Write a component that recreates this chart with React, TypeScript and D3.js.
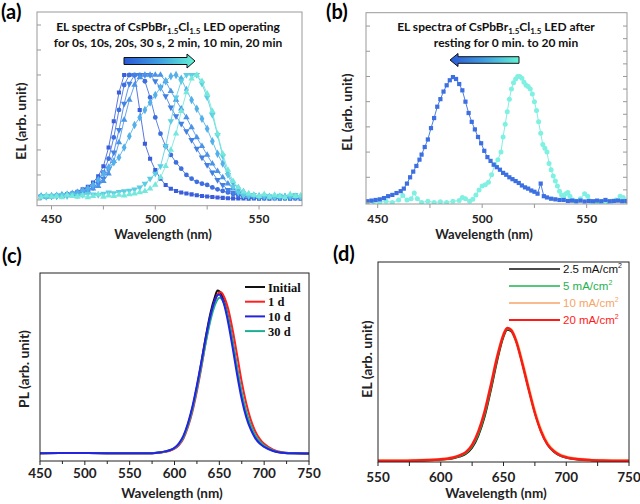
import React from "react";
import * as d3 from "d3";

// ---------- Panel (a): EL spectra while operating ----------
const wlA = [445,447.5,450,452.5,455,457.5,460,462.5,465,467.5,470,472.5,475,477.5,480,482.5,485,487.5,490,492.5,495,497.5,500,502.5,505,507.5,510,512.5,515,517.5,520,522.5,525,527.5,530,532.5,535,537.5,540,542.5,545,547.5,550,552.5,555,557.5,560,562.5,565,567.5,570];
const op0s = [0.03,0.028,0.03,0.033,0.038,0.045,0.052,0.065,0.085,0.105,0.14,0.19,0.27,0.42,0.63,0.86,1,1,1,0.72,0.45,0.33,0.24,0.17,0.12,0.09,0.072,0.06,0.052,0.045,0.038,0.032,0.028,0.024,0.02,0.017,0.014,0.013,0.012,0.012,0.011,0.012,0.011,0.012,0.011,0.012,0.011,0.012,0.011,0.012,0.011];
const op10s = [0.03,0.03,0.03,0.034,0.04,0.045,0.05,0.06,0.075,0.095,0.12,0.16,0.22,0.33,0.5,0.72,0.92,1,1,1,0.95,0.82,0.66,0.53,0.43,0.36,0.3,0.25,0.2,0.17,0.145,0.13,0.12,0.1,0.085,0.072,0.06,0.048,0.038,0.03,0.025,0.022,0.02,0.02,0.019,0.02,0.019,0.02,0.019,0.02,0.019];
const op20s = [0.025,0.025,0.028,0.03,0.035,0.04,0.045,0.055,0.065,0.08,0.1,0.13,0.17,0.25,0.38,0.56,0.77,0.93,1,1,1,1,0.95,0.9,0.83,0.74,0.67,0.61,0.55,0.48,0.41,0.34,0.28,0.22,0.16,0.12,0.08,0.06,0.045,0.035,0.03,0.025,0.022,0.02,0.021,0.02,0.022,0.02,0.021,0.02,0.02];
const op30s = [0.025,0.026,0.027,0.03,0.033,0.037,0.042,0.05,0.06,0.072,0.09,0.11,0.15,0.21,0.31,0.46,0.64,0.8,0.92,0.98,1,1,1,1,0.95,0.87,0.8,0.73,0.66,0.58,0.5,0.43,0.36,0.29,0.23,0.18,0.13,0.095,0.07,0.05,0.04,0.033,0.028,0.025,0.024,0.025,0.023,0.025,0.024,0.023,0.024];
const op2min = [0.03,0.03,0.032,0.035,0.04,0.045,0.05,0.06,0.075,0.09,0.12,0.16,0.21,0.26,0.3,0.34,0.42,0.51,0.6,0.66,0.72,0.78,0.84,0.9,0.95,0.99,1,0.97,0.88,0.8,0.73,0.65,0.57,0.47,0.37,0.29,0.21,0.14,0.095,0.065,0.045,0.035,0.03,0.028,0.026,0.027,0.025,0.026,0.025,0.026,0.025];
const op10min = [0.03,0.025,0.035,0.03,0.04,0.03,0.045,0.035,0.04,0.05,0.045,0.04,0.05,0.06,0.055,0.065,0.07,0.075,0.085,0.1,0.13,0.17,0.21,0.27,0.43,0.63,0.82,0.95,1,1,1,0.93,0.82,0.68,0.52,0.35,0.2,0.105,0.06,0.035,0.03,0.04,0.025,0.035,0.03,0.02,0.035,0.025,0.03,0.04,0.025];
const op20min = [0.02,0.035,0.025,0.03,0.02,0.04,0.03,0.025,0.035,0.02,0.03,0.045,0.025,0.035,0.03,0.04,0.035,0.045,0.05,0.06,0.07,0.09,0.12,0.18,0.27,0.4,0.53,0.71,0.86,0.97,1,0.95,0.85,0.71,0.53,0.37,0.24,0.15,0.1,0.065,0.05,0.04,0.03,0.045,0.025,0.04,0.03,0.02,0.045,0.03,0.035];
const opColors = ["#3a5edb","#3e6fe0","#4380e4","#4a94e8","#53b0ea","#5ccde2","#74e8dc"];

// ---------- Panel (b): EL spectra after resting ----------
const rest20min: [number, number][] = [[445,0.01],[447,0.015],[449,0.02],[451,0.025],[453,0.035],[455,0.05],[457,0.06],[459,0.075],[461,0.09],[462.5,0.11],[464,0.15],[465.5,0.2],[467,0.245],[468.5,0.29],[470,0.34],[471,0.38],[472.5,0.44],[474,0.5],[475.5,0.59],[477,0.67],[478.5,0.76],[480,0.82],[481.5,0.88],[483,0.93],[484.5,0.97],[486,0.995],[487.5,0.98],[489,0.94],[490.5,0.89],[492,0.8],[493.5,0.71],[495,0.64],[496.5,0.58],[498,0.52],[499.5,0.47],[501,0.41],[502.5,0.36],[504,0.33],[505.5,0.3],[507,0.28],[508.5,0.26],[510,0.235],[511.5,0.22],[513,0.2],[514.5,0.185],[516,0.17],[517.5,0.155],[519,0.135],[520.5,0.12],[522,0.11],[523.5,0.095],[525,0.085],[526.5,0.07],[528,0.15],[529.5,0.05],[531,0.04],[533,0.03],[535,0.025],[537,0.02],[539,0.02],[541,0.012],[543,0.015],[545,0.01],[547,0.015],[549,0.008],[551,0.012],[553,0.01],[555,0.015],[557,0.01],[559,0.02],[561,0.01],[563,0.012],[565,0.015],[567,0.01],[569,0.012]];
const rest0min: [number, number][] = [[445,0],[448,0.005],[451,0],[454,0.01],[457,0],[460,0.02],[462,0.055],[464,0.02],[466,0.03],[467.5,0.075],[469,0.03],[471,0],[474,0.01],[477,0],[480,0.005],[483,0],[486,0.01],[489,0.015],[490.5,0.04],[492,0.03],[494,0.01],[495.5,0.025],[497,0.06],[498.5,0.1],[500,0.13],[501.5,0.14],[503,0.16],[504.5,0.22],[506,0.3],[507.5,0.34],[509,0.4],[510,0.52],[511,0.62],[512,0.72],[513,0.82],[514,0.9],[515,0.95],[516,0.98],[517,1],[518,1],[519,0.985],[520,0.955],[521,0.93],[522,0.92],[523,0.9],[524,0.86],[525,0.8],[526,0.73],[527,0.64],[528,0.55],[529,0.46],[530,0.43],[531,0.4],[532,0.31],[533,0.26],[534,0.21],[535,0.17],[536,0.13],[537,0.09],[538,0.06],[539,0.045],[540,0.07],[541,0.08],[542,0.05],[543.5,0.02],[545,0.01],[547,0.03],[549,0.07],[550.5,0.05],[552,0.01],[554,0.005],[556,0],[558,0.01],[560,0.005],[562,0.01],[564,0.02],[566,0.05],[567.5,0.04],[569,0.01]];

// ---------- Panel (c): PL stability ----------
const wlC = [450,500,550,575,585,590,595,600,605,610,615,620,625,630,635,640,645,648,650,652,655,660,665,670,675,680,685,690,695,700,710,720,735,750];
const plInitial = [0.005,0.006,0.004,0.005,0.01,0.015,0.022,0.035,0.06,0.105,0.18,0.28,0.41,0.56,0.72,0.86,0.96,1,0.995,0.98,0.94,0.83,0.68,0.51,0.36,0.245,0.17,0.11,0.075,0.05,0.02,0.008,0.004,0.003];
const pl1d = [0.005,0.006,0.004,0.005,0.009,0.013,0.02,0.032,0.055,0.095,0.165,0.26,0.385,0.53,0.69,0.83,0.935,0.975,0.988,0.99,0.965,0.885,0.755,0.6,0.44,0.31,0.21,0.14,0.093,0.062,0.027,0.011,0.004,0.003];
const pl10d = [0.005,0.006,0.004,0.005,0.011,0.016,0.024,0.038,0.065,0.112,0.188,0.29,0.42,0.565,0.715,0.845,0.94,0.972,0.975,0.962,0.92,0.8,0.645,0.48,0.335,0.225,0.15,0.097,0.064,0.043,0.018,0.008,0.004,0.003];
const pl30d = [0.005,0.006,0.004,0.005,0.01,0.015,0.022,0.035,0.06,0.102,0.174,0.272,0.398,0.54,0.685,0.815,0.91,0.945,0.955,0.952,0.925,0.825,0.68,0.52,0.375,0.26,0.175,0.115,0.077,0.052,0.022,0.009,0.004,0.003];
const plLabels = ["Initial","1 d","10 d","30 d"];
const plColors = ["#111111","#ff2020","#2424e0","#1fae94"];

// ---------- Panel (d): EL vs current density ----------
const wlD = [550,560,570,580,590,595,600,605,610,615,620,625,630,635,640,645,650,653,656,660,665,670,675,680,685,690,695,700,705,710,720,730,740,750];
const el2p5 = [0.004,0.004,0.005,0.006,0.008,0.01,0.012,0.016,0.023,0.035,0.055,0.1,0.19,0.33,0.53,0.75,0.93,0.985,0.975,0.9,0.73,0.54,0.36,0.22,0.125,0.072,0.042,0.027,0.018,0.013,0.008,0.006,0.005,0.004];
const el5 = [0.004,0.005,0.005,0.007,0.009,0.011,0.013,0.018,0.025,0.038,0.06,0.11,0.2,0.345,0.545,0.765,0.94,0.99,0.98,0.9,0.73,0.54,0.36,0.22,0.127,0.075,0.045,0.029,0.02,0.014,0.009,0.006,0.005,0.004];
const el10 = [0.005,0.005,0.006,0.008,0.01,0.012,0.015,0.02,0.028,0.042,0.065,0.118,0.215,0.36,0.56,0.775,0.945,0.995,0.985,0.905,0.74,0.55,0.37,0.23,0.135,0.08,0.05,0.033,0.023,0.016,0.01,0.007,0.006,0.005];
const el20 = [0.005,0.006,0.006,0.008,0.011,0.013,0.016,0.021,0.03,0.045,0.07,0.125,0.225,0.375,0.575,0.785,0.95,1,0.985,0.905,0.735,0.545,0.365,0.225,0.13,0.078,0.048,0.032,0.022,0.016,0.01,0.007,0.006,0.005];
const elLabels = ["2.5 mA/cm","5 mA/cm","10 mA/cm","20 mA/cm"];
const elColors = ["#111111","#1fb24e","#f5a568","#ff1a1a"];

const ticksAB = [450, 500, 550];
const ticksC = [450, 500, 550, 600, 650, 700, 750];
const ticksD = [550, 600, 650, 700, 750];

const SANS = "Lato, 'Open Sans', sans-serif";

export default function App() {
  const xA = d3.scaleLinear().domain([443, 570.7]).range([37, 302]);
  const yA = d3.scaleLinear().domain([-0.046, 1.504]).range([205.7, 12]);
  const xB = d3.scaleLinear().domain([444.4, 569.3]).range([366, 627]);
  const yB = d3.scaleLinear().domain([-0.012, 1.506]).range([204, 12.7]);
  const xC = d3.scaleLinear().domain([450, 750]).range([40, 309]);
  const yC = d3.scaleLinear().domain([-0.043, 1.107]).range([461, 273]);
  const xD = d3.scaleLinear().domain([550, 750]).range([378, 629]);
  const yD = d3.scaleLinear().domain([-0.004, 1.494]).range([462, 262]);

  const opSeries = [op0s, op10s, op20s, op30s, op2min, op10min, op20min];
  const opSyms = [d3.symbolSquare, d3.symbolCircle, d3.symbolTriangle, d3.symbolTriangle, d3.symbolDiamond, d3.symbolTriangle, d3.symbolTriangle];
  const opRot = [0, 0, 180, 0, 0, 180, 0];
  const opSize = [17, 18, 18, 18, 20, 18, 18];

  const lineA = (vals: number[]) =>
    d3.line<number>().x((_, i) => xA(wlA[i])).y((d) => yA(d))(vals) || "";
  const lineB = d3.line<[number, number]>().x((d) => xB(d[0])).y((d) => yB(d[1]));
  const lineC = (vals: number[]) =>
    d3.line<number>().x((_, i) => xC(wlC[i])).y((d) => yC(d)).curve(d3.curveMonotoneX)(vals) || "";
  const lineD = (vals: number[]) =>
    d3.line<number>().x((_, i) => xD(wlD[i])).y((d) => yD(d)).curve(d3.curveMonotoneX)(vals) || "";

  const sym = (t: d3.SymbolType, s: number) => d3.symbol().type(t).size(s)() || "";

  const yTicksAB = [0, 0.2, 0.4, 0.6, 0.8, 1.0, 1.2, 1.4];
  const yTicksBR = [0.1, 0.2, 0.3, 0.4, 0.5, 0.6, 0.7, 0.8, 0.9, 1.0, 1.1, 1.2, 1.3, 1.4];
  const minorAB = [450, 475, 500, 525, 550];
  const minorC = d3.range(450, 751, 25);
  const minorD = d3.range(550, 751, 25);

  const sub = (t: string) => (
    <tspan fontSize={8} dy={3}>{t}</tspan>
  );

  return (
    <svg width={640} height={504} style={{ position: "absolute", left: 0, top: 0, background: "#fff" }} fontFamily={SANS}>
      <defs>
        <clipPath id="clipA"><rect x={37} y={12} width={265} height={193.7} /></clipPath>
        <clipPath id="clipB"><rect x={366} y={12.7} width={261} height={191.3} /></clipPath>
        <clipPath id="clipC"><rect x={40} y={273} width={269} height={188} /></clipPath>
        <clipPath id="clipD"><rect x={378} y={262} width={251} height={200} /></clipPath>
        <linearGradient id="arrGrad" x1="0" x2="1" y1="0" y2="0">
          <stop offset="0" stopColor="#2a58d6" />
          <stop offset="0.5" stopColor="#3f9ee0" />
          <stop offset="1" stopColor="#62f2d4" />
        </linearGradient>
      </defs>

      {/* ===== Panel (a) ===== */}
      <text x={1} y={19} fontSize={20} fontWeight="bold">(a)</text>
      <g clipPath="url(#clipA)">
        {opSeries.map((vals, k) => (
          <g key={k}>
            <path d={lineA(vals)} fill="none" stroke={opColors[k]} strokeWidth={1} opacity={0.85} />
            {vals.map((v, i) => (
              <path key={i} d={sym(opSyms[k], opSize[k])} fill={opColors[k]}
                transform={`translate(${xA(wlA[i])},${yA(v)}) rotate(${opRot[k]})`} />
            ))}
          </g>
        ))}
      </g>
      <rect x={37} y={12} width={265} height={193.7} fill="none" stroke="#999" strokeWidth={1} />
      {yTicksAB.map((t) => (
        <line key={t} x1={37} x2={41} y1={yA(t)} y2={yA(t)} stroke="#999" />
      ))}
      {minorAB.map((t) => (
        <line key={t} x1={xA(t)} x2={xA(t)} y1={205.7} y2={209.5} stroke="#999" />
      ))}
      {ticksAB.map((t) => (
        <text key={t} x={xA(t)} y={222.5} textAnchor="middle" fontSize={12} fontWeight="bold" fill="#222">{t}</text>
      ))}
      <text x={163} y={238.5} textAnchor="middle" fontSize={13} fontWeight="bold" fill="#222">Wavelength (nm)</text>
      <text transform="translate(26,121) rotate(-90)" textAnchor="middle" fontSize={14} fontWeight="bold" fill="#222">EL (arb. unit)</text>
      <text x={168} y={31} textAnchor="middle" fontSize={12} fontWeight="bold" fill="#111">
        EL spectra of CsPbBr{sub("1.5")}<tspan dy={-3}>Cl</tspan>{sub("1.5")}<tspan dy={-3}> LED operating</tspan>
      </text>
      <text x={168} y={47} textAnchor="middle" fontSize={12} fontWeight="bold" fill="#111">
        for 0s, 10s, 20s, 30 s, 2 min, 10 min, 20 min
      </text>
      <path d="M124,57.5 H187 V54 L195,61 L187,68 V64.5 H124 Z" fill="url(#arrGrad)" stroke="#111" strokeWidth={1} />

      {/* ===== Panel (b) ===== */}
      <text x={326} y={19} fontSize={20} fontWeight="bold">(b)</text>
      <g clipPath="url(#clipB)">
        <path d={lineB(rest0min) || ""} fill="none" stroke="#7ff0e2" strokeWidth={1} />
        {rest0min.map((d, i) => (
          <circle key={i} cx={xB(d[0])} cy={yB(d[1])} r={2.5} fill="#7ff0e2" />
        ))}
        <path d={lineB(rest20min) || ""} fill="none" stroke="#4a7ee6" strokeWidth={1} />
        {rest20min.map((d, i) => (
          <rect key={i} x={xB(d[0]) - 2.1} y={yB(d[1]) - 2.1} width={4.2} height={4.2} fill="#3c6fe2" />
        ))}
      </g>
      <rect x={366} y={12.7} width={261} height={191.3} fill="none" stroke="#999" strokeWidth={1} />
      {yTicksAB.map((t) => (
        <line key={t} x1={366} x2={370} y1={yB(t)} y2={yB(t)} stroke="#999" />
      ))}
      {yTicksBR.map((t) => (
        <line key={t} x1={627} x2={623} y1={yB(t)} y2={yB(t)} stroke="#999" />
      ))}
      {minorAB.map((t) => (
        <line key={t} x1={xB(t)} x2={xB(t)} y1={204} y2={208} stroke="#999" />
      ))}
      {ticksAB.map((t) => (
        <text key={t} x={xB(t)} y={222.5} textAnchor="middle" fontSize={12} fontWeight="bold" fill="#222">{t}</text>
      ))}
      <text x={484} y={238.5} textAnchor="middle" fontSize={13} fontWeight="bold" fill="#222">Wavelength (nm)</text>
      <text transform="translate(352,112) rotate(-90)" textAnchor="middle" fontSize={14} fontWeight="bold" fill="#222">EL (arb. unit)</text>
      <text x={496} y={31} textAnchor="middle" fontSize={12} fontWeight="bold" fill="#111">
        EL spectra of CsPbBr{sub("1.5")}<tspan dy={-3}>Cl</tspan>{sub("1.5")}<tspan dy={-3}> LED after</tspan>
      </text>
      <text x={506} y={47} textAnchor="middle" fontSize={12} fontWeight="bold" fill="#111">resting for 0 min. to 20 min</text>
      <path d="M519,56.7 H458 V53.5 L450,60 L458,66.5 V63.3 H519 Z" fill="url(#arrGrad)" stroke="#111" strokeWidth={1} />

      {/* ===== Panel (c) ===== */}
      <text x={2} y={263} fontSize={20} fontWeight="bold">(c)</text>
      <g clipPath="url(#clipC)">
        {[plInitial, pl1d, pl30d, pl10d].map((vals, k) => {
          const idx = [0, 1, 3, 2][k];
          return <path key={k} d={lineC(vals)} fill="none" stroke={plColors[idx]} strokeWidth={2} />;
        })}
      </g>
      <rect x={40} y={273} width={269} height={188} fill="none" stroke="#222" strokeWidth={1} />
      {minorC.map((t) => (
        <line key={t} x1={xC(t)} x2={xC(t)} y1={461} y2={t % 50 === 0 ? 465 : 464} stroke="#222" />
      ))}
      {ticksC.map((t) => (
        <text key={t} x={xC(t)} y={478} textAnchor="middle" fontSize={13.5} fontWeight="bold" fill="#222">{t}</text>
      ))}
      <text x={172} y={497.5} textAnchor="middle" fontSize={13.5} fontWeight="bold" fill="#222">Wavelength (nm)</text>
      <text transform="translate(29,369) rotate(-90)" textAnchor="middle" fontSize={14} fontWeight="bold" fill="#222">PL (arb. unit)</text>
      {plLabels.map((l, i) => (
        <g key={l}>
          <line x1={245} x2={265} y1={287 + i * 14.7} y2={287 + i * 14.7} stroke={plColors[i]} strokeWidth={2} />
          <text x={268} y={291.5 + i * 14.7} fontSize={12.5} fontWeight="bold" fontFamily="'Liberation Serif', 'Times New Roman', serif" fill="#111">{l}</text>
        </g>
      ))}

      {/* ===== Panel (d) ===== */}
      <text x={333} y={261} fontSize={20} fontWeight="bold">(d)</text>
      <g clipPath="url(#clipD)">
        <path d={lineD(el10)} fill="none" stroke="#f8dc9c" strokeWidth={3.5} />
        <path d={lineD(el2p5)} fill="none" stroke={elColors[0]} strokeWidth={1.5} />
        <path d={lineD(el5)} fill="none" stroke={elColors[1]} strokeWidth={1.5} />
        <path d={lineD(el20)} fill="none" stroke={elColors[3]} strokeWidth={2.5} />
      </g>
      <rect x={378} y={262} width={251} height={200} fill="none" stroke="#222" strokeWidth={1} />
      {minorD.map((t) => (
        <line key={t} x1={xD(t)} x2={xD(t)} y1={462} y2={466} stroke="#222" />
      ))}
      {ticksD.map((t) => (
        <text key={t} x={xD(t)} y={481.5} textAnchor="middle" fontSize={13.5} fontWeight="bold" fill="#222">{t}</text>
      ))}
      <text x={496} y={498} textAnchor="middle" fontSize={13.5} fontWeight="bold" fill="#222">Wavelength (nm)</text>
      <text transform="translate(372,359) rotate(-90)" textAnchor="middle" fontSize={14} fontWeight="bold" fill="#222">EL (arb. unit)</text>
      {elLabels.map((l, i) => {
        const yy = [269, 286, 303, 320][i];
        return (
          <g key={l}>
            <line x1={509} x2={560} y1={yy} y2={yy} stroke={elColors[i]} strokeWidth={i === 3 ? 2 : 1.5} />
            <text x={563} y={yy + 4} fontSize={11.5} fontFamily="'Liberation Sans', Arial, sans-serif" fill={elColors[i]}>
              {l}<tspan fontSize={7} dy={-5}>2</tspan>
            </text>
          </g>
        );
      })}
    </svg>
  );
}
